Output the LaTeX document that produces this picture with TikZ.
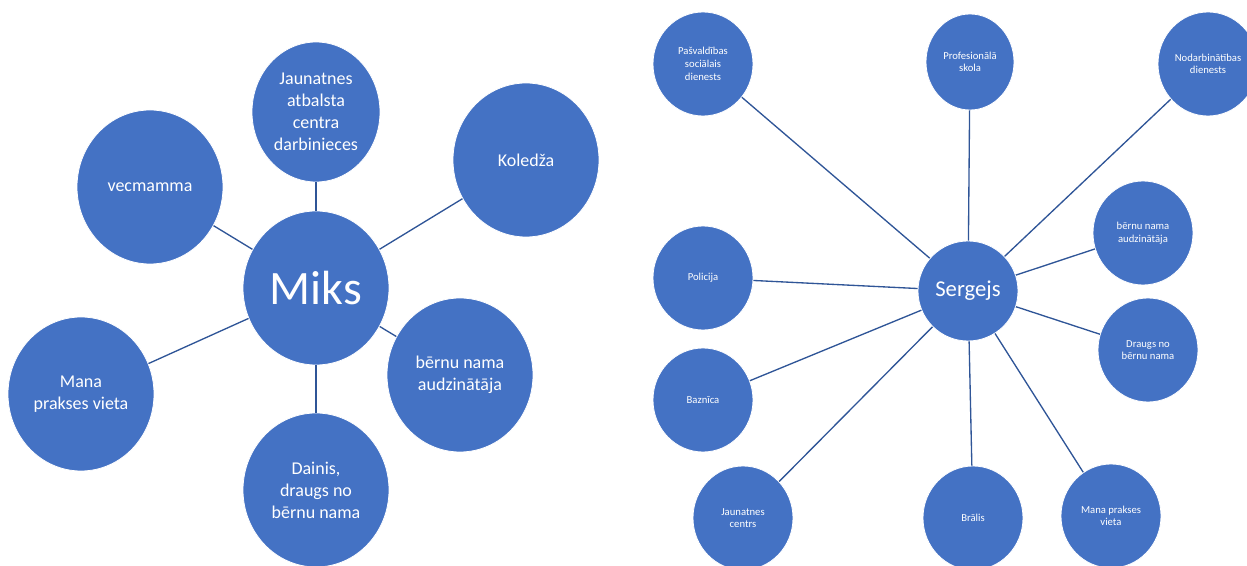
\documentclass[tikz,border=0pt]{standalone}
\usepackage{fontspec}
\setmainfont{Carlito}
\usepackage{tikz}
\usetikzlibrary{shapes.geometric}

\definecolor{bubblefill}{HTML}{4472C4}
\definecolor{linkline}{HTML}{2F5597}

\begin{document}
\begin{tikzpicture}[x=0.75pt,y=-0.75pt,
		bubble/.style={ellipse,fill=bubblefill,draw=white,line width=0.6pt,inner sep=0pt,
			text=white,align=center,minimum width=109.5pt,minimum height=115.5pt,
			font=\fontsize{13.5}{16.5}\selectfont},
		smallbubble/.style={bubble,minimum width=75pt,minimum height=78pt,
			font=\fontsize{8}{9.5}\selectfont},
		link/.style={draw=linkline,line width=1pt}]
		\useasboundingbox (0,0) rectangle (1247,566);
		\clip (0,0) rectangle (1247,566);
%		\draw[help lines] (0,0) grid[step=50] (1247,566);
		\path (316,288) coordinate (miks_c);
		\path (150,187) coordinate (vecmamma_c);
		\path (316,112) coordinate (jaunatnes_c);
		\path (526,160) coordinate (koledza_c);
		\path (460,375) coordinate (audzinataja_c);
		\path (316,490) coordinate (dainis_c);
		\path (81,394) coordinate (prakse_c);

		\path (968,291) coordinate (sergejs_c);
		\path (703,64) coordinate (pasvaldiba_c);
		\path (970,62) coordinate (skola_c);
		\path (1208,64) coordinate (nodarbinatiba_c);
		\path (1143,233) coordinate (audz2_c);
		\path (1148,350) coordinate (draugs_c);
		\path (1111,516) coordinate (prakse2_c);
		\path (973,518) coordinate (bralis_c);
		\path (743,518) coordinate (centrs_c);
		\path (703,400) coordinate (baznica_c);
		\path (703,278) coordinate (policija_c);

		% Miks
		\node (miks) [bubble,font=\fontsize{36}{40}\selectfont] at (miks_c) {Miks};
		\node (vecmamma) [bubble] at (vecmamma_c) {vecmamma};
		\node (jaunatnes) [bubble,minimum width=96pt,minimum height=105pt] at (jaunatnes_c)
			{Jaunatnes\\atbalsta\\centra\\darbinieces};
		\node (koledza) [bubble] at (koledza_c) {Koledža};
		\node (audzinataja) [bubble] at (audzinataja_c) {bērnu nama\\audzinātāja};
		\node (dainis) [bubble] at (dainis_c) {Dainis,\\draugs no\\bērnu nama};
		\node (prakse) [bubble] at (prakse_c) {Mana\\prakses vieta};
		\draw[link] (miks) -- (vecmamma);
		\draw[link] (miks) -- (jaunatnes);
		\draw[link] (miks) -- (koledza);
		\draw[link] (miks) -- (audzinataja);
		\draw[link] (miks) -- (dainis);
		\draw[link] (miks) -- (prakse);

		% Sergejs
		\node (sergejs) [smallbubble,minimum height=75pt,font=\fontsize{17}{20}\selectfont] at (sergejs_c) {Sergejs};
		\node (pasvaldiba) [smallbubble] at (pasvaldiba_c) {Pašvaldības\\sociālais\\dienests};
		\node (skola) [smallbubble,minimum width=66pt,minimum height=72pt] at (skola_c) {Profesionālā\\skola};
		\node (nodarbinatiba) [smallbubble] at (nodarbinatiba_c) {Nodarbinātības\\dienests};
		\node (audz2) [smallbubble] at (audz2_c) {bērnu nama\\audzinātāja};
		\node (draugs) [smallbubble] at (draugs_c) {Draugs no\\bērnu nama};
		\node (prakse2) [smallbubble] at (prakse2_c) {Mana prakses\\vieta};
		\node (bralis) [smallbubble] at (bralis_c) {Brālis};
		\node (centrs) [smallbubble] at (centrs_c) {Jaunatnes\\centrs};
		\node (baznica) [smallbubble] at (baznica_c) {Baznīca};
		\node (policija) [smallbubble] at (policija_c) {Policija};
		\foreach \other in {pasvaldiba,skola,nodarbinatiba,audz2,draugs,prakse2,bralis,centrs,baznica,policija}
			\draw[link] (sergejs) -- (\other);
	\end{tikzpicture}
\end{document}
